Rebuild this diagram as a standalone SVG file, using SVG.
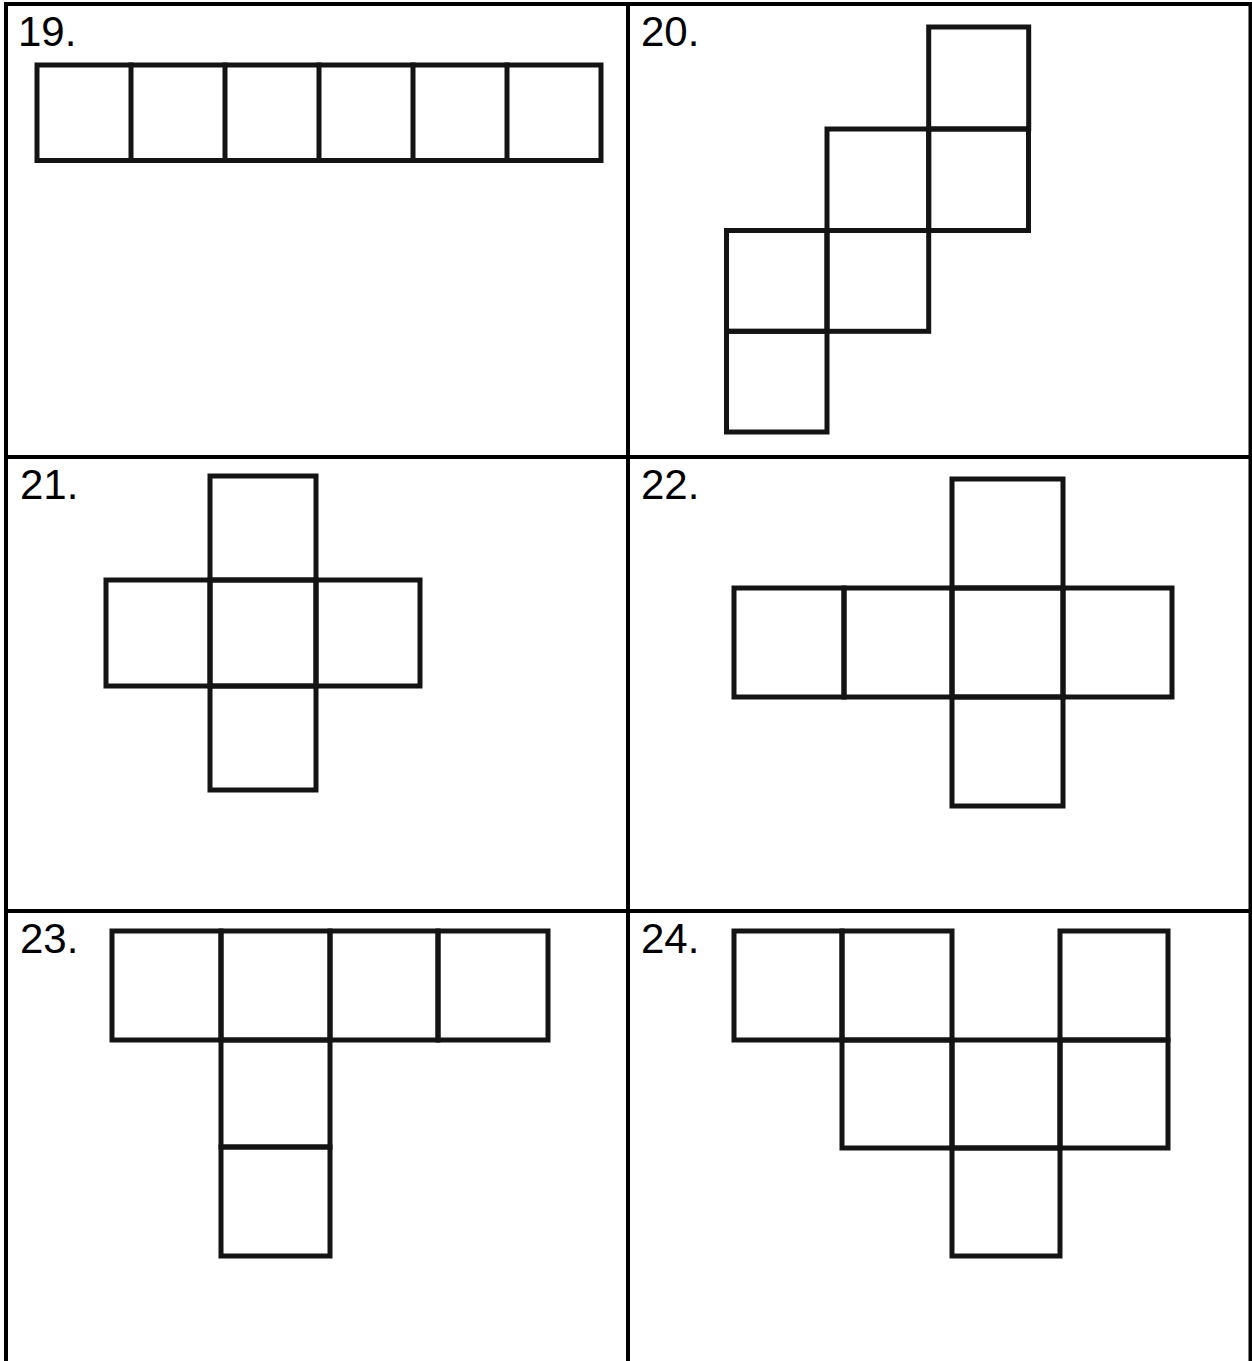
<svg xmlns="http://www.w3.org/2000/svg" width="1252" height="1361" viewBox="0 0 1252 1361">
<style>
.frame{stroke:#000;stroke-width:4;fill:none}
.sq{stroke:#141414;stroke-width:5;fill:none;stroke-linejoin:miter;stroke-linecap:square}
.lbl{font-family:"Liberation Sans",Arial,sans-serif;font-size:42px;fill:#000}
</style>
<rect width="1252" height="1361" fill="#fff"/>
<g id="table" class="frame">
<line x1="4" y1="4" x2="1252" y2="4"/>
<line x1="6" y1="2" x2="6" y2="1361"/>
<line x1="628" y1="2" x2="628" y2="1361"/>
<line x1="1250.5" y1="2" x2="1250.5" y2="1361"/>
<line x1="4" y1="457" x2="1252" y2="457"/>
<line x1="4" y1="911" x2="1252" y2="911"/>
</g>
<g id="labels">
<text class="lbl" x="18" y="46">19.</text>
<text class="lbl" x="641" y="46">20.</text>
<text class="lbl" x="20" y="499">21.</text>
<text class="lbl" x="641" y="499">22.</text>
<text class="lbl" x="20" y="953">23.</text>
<text class="lbl" x="641" y="953">24.</text>
</g>
<g id="net19" class="sq">
<rect x="37" y="65" width="564" height="95.5"/>
<path d="M131 65V160.5M225 65V160.5M319 65V160.5M413 65V160.5M507 65V160.5"/>
</g>
<g id="net20" class="sq">
<rect x="928.7" y="27" width="100" height="102"/>
<rect x="827" y="129" width="101.7" height="101.5"/>
<rect x="928.7" y="129" width="99.8" height="101.5"/>
<rect x="726.5" y="230.5" width="100.5" height="100.8"/>
<rect x="827" y="230.5" width="101.7" height="100.8"/>
<rect x="726.5" y="331.3" width="100.5" height="100.7"/>
</g>
<g id="net21" class="sq">
<rect x="210" y="476" width="106" height="104"/>
<rect x="106" y="580" width="104" height="106"/>
<rect x="210" y="580" width="106" height="106"/>
<rect x="316" y="580" width="104" height="106"/>
<rect x="210" y="686" width="106" height="104"/>
</g>
<g id="net22" class="sq">
<rect x="952" y="479" width="111" height="109"/>
<rect x="734" y="588" width="110" height="109"/>
<rect x="844" y="588" width="108" height="109"/>
<rect x="952" y="588" width="111" height="109"/>
<rect x="1063" y="588" width="109" height="109"/>
<rect x="952" y="697" width="111" height="109"/>
</g>
<g id="net23" class="sq">
<rect x="112" y="931" width="109" height="109"/>
<rect x="221" y="931" width="109" height="109"/>
<rect x="330" y="931" width="108" height="109"/>
<rect x="438" y="931" width="110" height="109"/>
<rect x="221" y="1040" width="109" height="107"/>
<rect x="221" y="1147" width="109" height="109"/>
</g>
<g id="net24" class="sq">
<rect x="734" y="931" width="108" height="109"/>
<rect x="842" y="931" width="110" height="109"/>
<rect x="1060" y="931" width="108" height="109"/>
<rect x="842" y="1040" width="110" height="108"/>
<rect x="952" y="1040" width="108" height="108"/>
<rect x="1060" y="1040" width="108" height="108"/>
<rect x="952" y="1148" width="108" height="108"/>
</g>
<g id="connectors"/>
</svg>
